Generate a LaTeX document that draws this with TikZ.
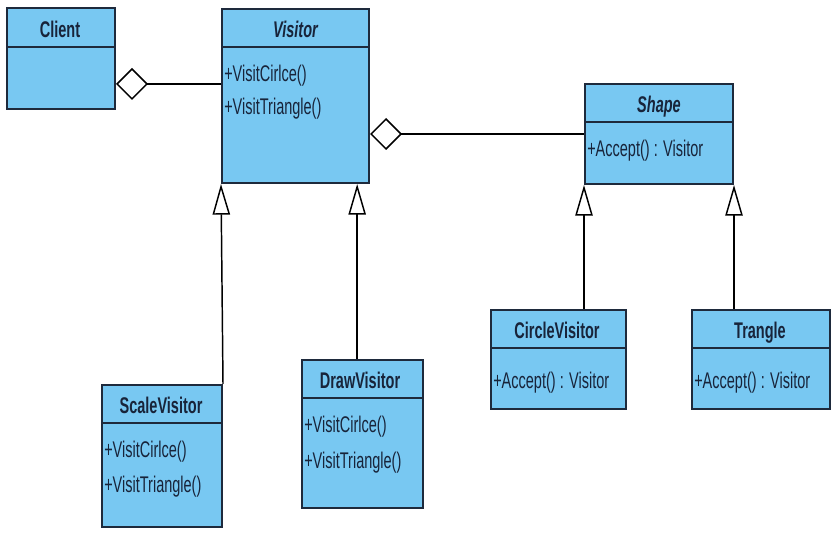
\documentclass[tikz,border=0pt]{standalone}
\usepackage{fontspec}
\setmainfont{Liberation Sans}[FakeStretch=0.64]
\usetikzlibrary{arrows.meta,fit}
\definecolor{clsfill}{RGB}{120,200,242}
\definecolor{clsline}{RGB}{30,42,60}
\definecolor{clstext}{RGB}{24,36,58}
\begin{document}
\begin{tikzpicture}[x=0.75pt,y=-0.75pt,
  cls/.style={draw=clsline, fill=clsfill, line width=1.5pt, inner sep=0pt},
  sepline/.style={draw=clsline, line width=1.5pt},
  ctitle/.style={font=\fontsize{17}{20}\selectfont\bfseries, text=clstext, inner sep=0pt, text height=12.2pt, text depth=0pt},
  atitle/.style={ctitle, font=\fontsize{17}{20}\selectfont\bfseries\itshape},
  member/.style={font=\fontsize{17}{20}\selectfont, text=clstext, inner sep=0pt, anchor=west, text height=12.2pt, text depth=0pt},
  assoc/.style={draw=black, line width=1.1pt},
  agg/.style={assoc, -{Diamond[open, length=24pt, width=24pt]}},
  gen/.style={assoc, -{Triangle[open, length=23pt, width=13pt]}},
]
\useasboundingbox (0,0) rectangle (831,534);

% class boxes
\node[cls, fit={(7,8) (115,109)}] (client) {};
\node[cls, fit={(222,9) (369,183)}] (visitor) {};
\node[cls, fit={(585,84) (733,184)}] (shape) {};
\node[cls, fit={(102,385) (222,527)}] (scalev) {};
\node[cls, fit={(302,360) (423,508)}] (drawv) {};
\node[cls, fit={(491,310) (626,409)}] (circlev) {};
\node[cls, fit={(692,310) (830,409)}] (trangle) {};

% header separators
\coordinate (hClient) at (0,47);
\coordinate (hVisitor) at (0,47);
\coordinate (hShape) at (0,122);
\coordinate (hScale) at (0,423);
\coordinate (hDraw) at (0,398);
\coordinate (hLeaf) at (0,348);
\draw[sepline] (client.west |- hClient) -- (client.east |- hClient);
\draw[sepline] (visitor.west |- hVisitor) -- (visitor.east |- hVisitor);
\draw[sepline] (shape.west |- hShape) -- (shape.east |- hShape);
\draw[sepline] (scalev.west |- hScale) -- (scalev.east |- hScale);
\draw[sepline] (drawv.west |- hDraw) -- (drawv.east |- hDraw);
\draw[sepline] (circlev.west |- hLeaf) -- (circlev.east |- hLeaf);
\draw[sepline] (trangle.west |- hLeaf) -- (trangle.east |- hLeaf);

% class names
\node[ctitle] (tClient) at (60,29) {Client};
\node[atitle] (tVisitor) at (295.5,29) {Visitor};
\node[atitle] (tShape) at (659,104) {Shape};
\node[ctitle] (tScale) at (161,405) {ScaleVisitor};
\node[ctitle] (tDraw) at (360,380) {DrawVisitor};
\node[ctitle] (tCircle) at (557,330) {CircleVisitor};
\node[ctitle] (tTrangle) at (760,330) {Trangle};

% operations
\node[member] (mV1) at (224,73) {+VisitCirlce()};
\node[member] (mV2) at (224,106) {+VisitTriangle()};
\node[member] (mS1) at (587,148) {+Accept() : Visitor};
\node[member] (mSc1) at (104,449) {+VisitCirlce()};
\node[member] (mSc2) at (104,484) {+VisitTriangle()};
\node[member] (mD1) at (304,424) {+VisitCirlce()};
\node[member] (mD2) at (304,460) {+VisitTriangle()};
\node[member] (mC1) at (493,380) {+Accept() : Visitor};
\node[member] (mT1) at (694,380) {+Accept() : Visitor};

% aggregations
\coordinate (aggA) at (0,84);
\coordinate (aggB) at (0,134);
\draw[agg] (visitor.west |- aggA) -- (client.east |- aggA);
\draw[agg] (shape.west |- aggB) -- (visitor.east |- aggB);

% generalizations
\draw[gen] (scalev.north east) -- (visitor.south west);
\draw[gen] ([xshift=-4pt]drawv.north) -- ([xshift=-4pt]drawv.north |- visitor.south);
\draw[gen] (circlev.north -| shape.south west) -- (shape.south west);
\draw[gen] (trangle.north -| shape.south east) -- (shape.south east);
\end{tikzpicture}
\end{document}
